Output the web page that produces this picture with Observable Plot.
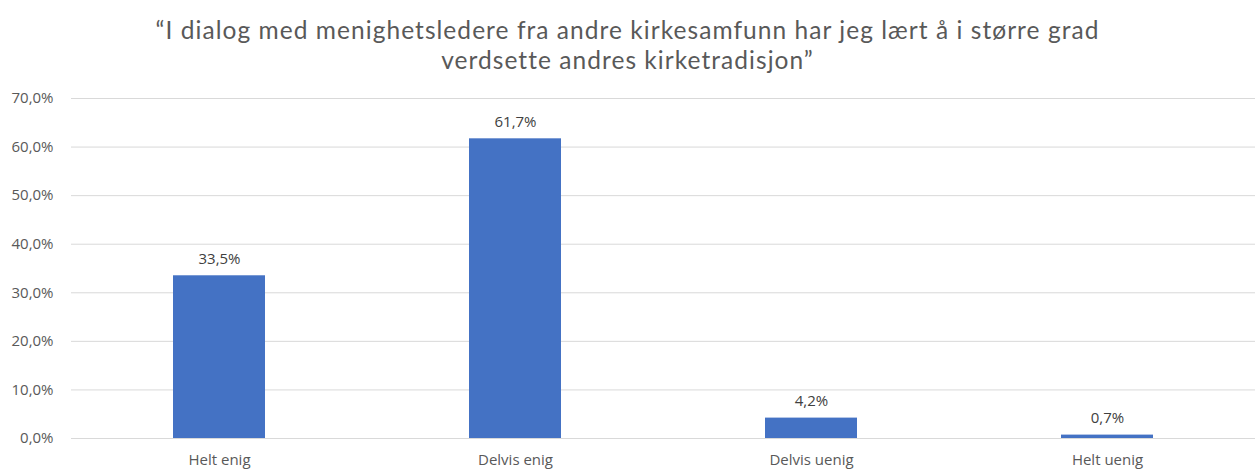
<!DOCTYPE html>
<html>
<head>
<meta charset="utf-8">
<script src="https://cdn.jsdelivr.net/npm/d3@7"></script>
<script src="https://cdn.jsdelivr.net/npm/@observablehq/plot@0.6"></script>
<style>
  html, body { margin: 0; padding: 0; background: #fff; }
  #title { width: 1255px; height: 80px; box-sizing: border-box; padding-top: 15px;
    text-align: center; font-family: Lato, sans-serif; font-size: 24.5px; letter-spacing: 1.05px; color: #595959; }
  #title div { height: 30px; line-height: 30px; white-space: nowrap; }
  #chart svg { display: block; }
</style>
</head>
<body>
<div id="title"><div>“I dialog med menighetsledere fra andre kirkesamfunn har jeg lært å i større grad</div><div>verdsette andres kirketradisjon”</div></div>
<div id="chart"></div>
<script>
const categories = ["Helt enig", "Delvis enig", "Delvis uenig", "Helt uenig"];
const values = [33.5, 61.7, 4.2, 0.7];
const yTicks = [0, 10, 20, 30, 40, 50, 60, 70];

const data = categories.map((c, i) => ({category: c, value: values[i]}));
const fmt = d => d.toFixed(1).replace(".", ",") + "%";

const chart = Plot.plot({
  width: 1255,
  height: 391,
  marginLeft: 71,
  marginRight: 0,
  marginTop: 18,
  marginBottom: 33,
  style: {fontFamily: "'Open Sans', sans-serif", fontSize: "15px", color: "#595959", background: "#fff"},
  x: {domain: categories, paddingInner: 0.689, paddingOuter: 0.3445, label: null},
  y: {domain: [0, 70], label: null},
  marks: [
    Plot.gridY(yTicks, {stroke: "#d9d9d9", strokeOpacity: 1, strokeWidth: 1}),
    Plot.barY(data, {x: "category", y: "value", fill: "#4472c4"}),
    Plot.text(data, {x: "category", y: "value", text: d => fmt(d.value), dy: -17, fill: "#404040", fontSize: 15}),
    Plot.axisY({ticks: yTicks, tickSize: 0, tickPadding: 18, tickFormat: fmt, fill: "#595959", fontSize: 15}),
    Plot.axisX({tickSize: 0, tickPadding: 16, fill: "#595959", fontSize: 15})
  ]
});
document.getElementById("chart").appendChild(chart);
</script>
</body>
</html>
